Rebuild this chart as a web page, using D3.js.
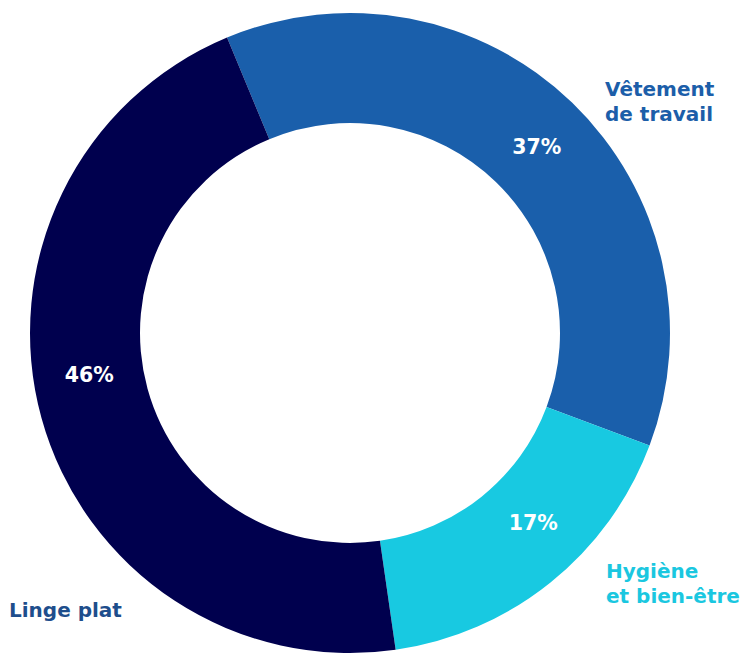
<!DOCTYPE html>
<html>
<head>
<meta charset="utf-8">
<script src="https://cdn.jsdelivr.net/npm/d3@7"></script>
<style>
  html, body { margin: 0; padding: 0; background: #fff; }
  svg { display: block; }
  text { font-family: "DejaVu Sans", sans-serif; font-weight: bold; }
</style>
</head>
<body>
<svg id="chart" width="743" height="655"></svg>
<script>
// Data
const categories = ["Vêtement de travail", "Hygiène et bien-être", "Linge plat"];
const values = [37, 17, 46];
const valueLabels = ["37%", "17%", "46%"];
const nameLines = [["Vêtement", "de travail"], ["Hygiène", "et bien-être"], ["Linge plat"]];

// Styles / layout
const sliceColors = ["#1a5fab", "#18c9e1", "#00004e"];
const nameColors = ["#1c5ea9", "#1ac7e0", "#1e4e8c"];
const cx = 350, cy = 333, outerR = 320, innerR = 210;
const startDeg = -22.6;
const pctLabelAngles = [45, 136, 261];
const pctLabelR = 264;
const namePos = [[605, 96], [606, 578], [9, 617]];
const lineH = 25;

const svg = d3.select("#chart");
const g = svg.append("g").attr("transform", `translate(${cx},${cy})`);

const start = startDeg * Math.PI / 180;
const pie = d3.pie().sort(null).value(d => d).startAngle(start).endAngle(start + 2 * Math.PI);
const arc = d3.arc().innerRadius(innerR).outerRadius(outerR);
const arcs = pie(values);

g.selectAll("path.slice")
  .data(arcs)
  .join("path")
  .attr("class", "slice")
  .attr("d", arc)
  .attr("fill", (d, i) => sliceColors[i]);

g.selectAll("text.pct")
  .data(arcs)
  .join("text")
  .attr("class", "pct")
  .attr("x", (d, i) => pctLabelR * Math.sin(pctLabelAngles[i] * Math.PI / 180))
  .attr("y", (d, i) => -pctLabelR * Math.cos(pctLabelAngles[i] * Math.PI / 180))
  .attr("text-anchor", "middle")
  .attr("dy", "0.36em")
  .attr("fill", "#fff")
  .attr("font-size", 20.5)
  .text((d, i) => valueLabels[i]);

const names = svg.selectAll("text.name")
  .data(categories)
  .join("text")
  .attr("class", "name")
  .attr("x", (d, i) => namePos[i][0])
  .attr("y", (d, i) => namePos[i][1])
  .attr("fill", (d, i) => nameColors[i])
  .attr("font-size", 20);

names.each(function(d, i) {
  const t = d3.select(this);
  nameLines[i].forEach((ln, j) => {
    t.append("tspan")
      .attr("x", namePos[i][0])
      .attr("y", namePos[i][1] + j * lineH)
      .text(ln);
  });
});
</script>
</body>
</html>
